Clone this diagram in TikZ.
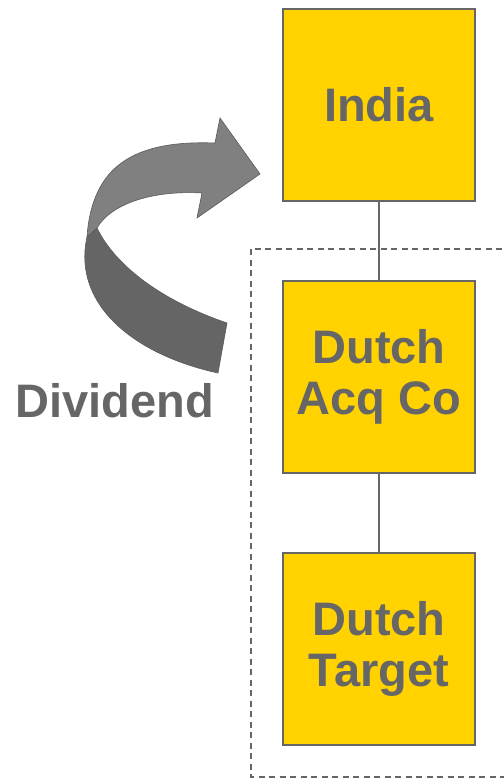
\documentclass[tikz,border=0pt]{standalone}
\usepackage{fontspec}
\setmainfont{Liberation Sans}
\usetikzlibrary{positioning}

\definecolor{boxyellow}{RGB}{255,210,0}
\definecolor{boxgray}{RGB}{102,102,102}
\definecolor{arrowlight}{RGB}{128,128,128}
\definecolor{arrowdark}{RGB}{101,101,101}
\definecolor{arrowedge}{RGB}{90,90,90}

\newcommand{\boxfont}{\fontsize{47}{51}\selectfont\bfseries}

\tikzstyle{entitybox} = [draw=boxgray, fill=boxyellow, line width=1.5pt,
    rectangle, minimum width=192pt, minimum height=192pt, inner sep=0pt,
    text=boxgray, font=\boxfont, align=center]
\tikzstyle{link} = [draw=boxgray, line width=1.4pt]
\tikzstyle{groupframe} = [draw=boxgray, line width=2pt, dash pattern=on 6pt off 4.5pt]
\tikzstyle{flowlabel} = [text=boxgray, font=\boxfont, inner sep=0pt]

\begin{document}
\begin{tikzpicture}[x=1pt, y=-1pt]
\useasboundingbox (0,0) rectangle (503,778);
% group round the Dutch companies
\draw[groupframe] (251,249) rectangle (510,777);

\node [entitybox] (india) at (379,105) {India};
\node [entitybox, below=78.5pt of india] (acqco) {Dutch\\Acq Co};
\node [entitybox, below=78.5pt of acqco] (target) {Dutch\\Target};

\draw[link] (india) -- (acqco);
\draw[link] (acqco) -- (target);

% dividend arrow, lower (dark) half first
\filldraw[fill=arrowdark, draw=arrowedge, line width=0.6pt]
    (87,237) .. controls (72,305) and (135,355) .. (218,373)
    -- (227,323) .. controls (160,300) and (115,265) .. (97,228) -- cycle;
\filldraw[fill=arrowlight, draw=arrowedge, line width=0.6pt]
    (87,237) .. controls (92,165) and (135,140) .. (215,143)
    -- (220,118) -- (260,174) -- (197,218) -- (202,193)
    .. controls (150,190) and (110,205) .. (97,228) -- cycle;
\node [flowlabel, anchor=base] (dividend) at (115,417) {Dividend};
\end{tikzpicture}
\end{document}
